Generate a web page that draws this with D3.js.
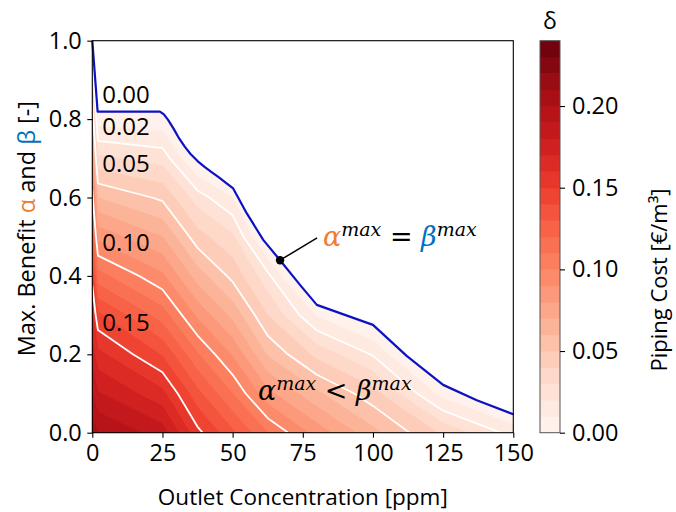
<!DOCTYPE html>
<html>
<head>
<meta charset="utf-8">
<script src="https://cdn.jsdelivr.net/npm/d3@7"></script>
<style>
  body { margin: 0; background: #fff; }
  svg text { font-family: "Open Sans", "DejaVu Sans", sans-serif; fill: #000; }
</style>
</head>
<body>
<svg id="chart" width="676" height="512"></svg>
<script>
// Grid columns: outlet concentration [ppm]
const concentration = [0, 2, 25, 37.5, 50, 62.5, 80, 100, 125, 150];
// Grid rows: maximum benefit β [-]
const benefit = [0, 0.1, 0.2, 0.3, 0.4, 0.5, 0.6, 0.7, 0.8, 0.9, 1.0];
// Piping cost δ [€/m³]; one list per concentration column, from benefit 0 to 1
const pipingCost = [
  [0.205, 0.190, 0.176, 0.162, 0.146, 0.125, 0.104, 0.083, 0.061, 0.035, 0.000],
  [0.200, 0.181, 0.163, 0.142, 0.114, 0.087, 0.060, 0.032, 0.005, -0.022, -0.049],
  [0.185, 0.163, 0.139, 0.115, 0.092, 0.070, 0.048, 0.026, 0.003, -0.020, -0.043],
  [0.153, 0.133, 0.111, 0.088, 0.065, 0.044, 0.025, -0.003, -0.035, -0.068, -0.100],
  [0.132, 0.110, 0.089, 0.067, 0.047, 0.032, 0.010, -0.020, -0.045, -0.070, -0.095],
  [0.110, 0.083, 0.059, 0.040, 0.023, -0.007, -0.038, -0.065, -0.090, -0.115, -0.140],
  [0.086, 0.062, 0.037, 0.009, -0.026, -0.055, -0.080, -0.105, -0.130, -0.155, -0.180],
  [0.063, 0.044, 0.019, -0.006, -0.031, -0.056, -0.080, -0.105, -0.130, -0.155, -0.180],
  [0.038, 0.006, -0.022, -0.050, -0.075, -0.100, -0.125, -0.150, -0.175, -0.200, -0.225],
  [0.016, -0.013, -0.038, -0.063, -0.088, -0.113, -0.138, -0.163, -0.188, -0.213, -0.238]
];
// Frontier where α^max = β^max
const frontierConc    = [0, 1.9, 24.1, 25.5, 27, 29, 31, 33, 35, 37.5, 40, 42.5, 45, 47.5, 50.2, 55, 60.9, 66.9, 74, 80, 100, 112, 125, 137, 150];
const frontierBenefit = [1.0, 0.819, 0.819, 0.812, 0.798, 0.775, 0.750, 0.729, 0.711, 0.693, 0.678, 0.665, 0.652, 0.638, 0.623, 0.56, 0.492, 0.44, 0.377, 0.326, 0.275, 0.196, 0.122, 0.083, 0.047];
const markerIndex = 17;

// Contour levels
const fillLevels = d3.range(25).map(i => i / 100);   // 0.00 … 0.24
const lineLevels = [0.02, 0.05, 0.10, 0.15];
const levelLabels = ["0.00", "0.02", "0.05", "0.10", "0.15"];

// Axis ticks
const xTicks = [0, 25, 50, 75, 100, 125, 150];
const yTicks = [0, 0.2, 0.4, 0.6, 0.8, 1.0];
const cbarTicks = [0, 0.05, 0.10, 0.15, 0.20];

const svg = d3.select("#chart");
const x = d3.scaleLinear().domain([0, 150]).range([92.3, 513.3]);
const y = d3.scaleLinear().domain([0, 1]).range([432.7, 40.7]);
const cb = d3.scaleLinear().domain([0, 0.24]).range([432.7, 40.7]);
const vmax = 0.24;
const bandColor = t => d3.interpolateReds((t + 0.005) / vmax);

// grid index -> data coordinate (piecewise linear over the column / row positions)
const n = concentration.length, m = benefit.length;
const gx = d3.scaleLinear().domain(d3.range(n)).range(concentration).clamp(true);
const gy = d3.scaleLinear().domain(d3.range(m)).range(benefit).clamp(true);
const values = new Array(n * m);
for (let j = 0; j < m; j++) for (let i = 0; i < n; i++) values[i + j * n] = pipingCost[i][j];

const contours = d3.contours().size([n, m]);
const proj = d3.geoTransform({
  point(u, w) { this.stream.point(x(gx(u - 0.5)), y(gy(w - 0.5))); }
});
const geo = d3.geoPath(proj);

// clip region below the frontier
const frontier = frontierConc.map((c, i) => [c, frontierBenefit[i]]);
const clipPoly = [[0, 0], ...frontier, [150, 0]];
const polyLine = d3.line().x(d => x(d[0])).y(d => y(d[1]));
svg.append("defs").append("clipPath").attr("id", "feasible")
  .append("path").attr("d", polyLine(clipPoly) + "Z");

const plot = svg.append("g").attr("clip-path", "url(#feasible)");
plot.append("path").attr("d", polyLine(clipPoly) + "Z").attr("fill", bandColor(0));

fillLevels.slice(0, -1).forEach(t => {
  plot.append("path")
    .attr("d", geo(contours.contour(values, t)))
    .attr("fill", bandColor(t))
    .attr("stroke", bandColor(t))
    .attr("stroke-width", 0.4);
});

// iso-lines: keep only the interior parts of each contour ring
function isoline(level) {
  const parts = [];
  const g = contours.contour(values, level);
  g.coordinates.forEach(poly => poly.forEach(ring => {
    let cur = [];
    ring.forEach(p => {
      const edge = p[0] === 0 || p[0] === n || p[1] === 0 || p[1] === m;
      if (edge) { if (cur.length > 1) parts.push(cur); cur = []; }
      else cur.push([x(gx(p[0] - 0.5)), y(gy(p[1] - 0.5))]);
    });
    if (cur.length > 1) parts.push(cur);
  }));
  return parts;
}
lineLevels.forEach(level => {
  isoline(level).forEach(part => {
    plot.append("path")
      .attr("d", d3.line()(part))
      .attr("fill", "none")
      .attr("stroke", "#fff")
      .attr("stroke-width", 1.8)
      .attr("stroke-linejoin", "round");
  });
});

// frontier line
svg.append("path")
  .attr("d", polyLine(frontier))
  .attr("fill", "none")
  .attr("stroke", "#0c12c4")
  .attr("stroke-width", 2.2)
  .attr("stroke-linejoin", "round");

// contour level labels
const labelAt = [0.864, 0.781, 0.687, 0.485, 0.282];
levelLabels.forEach((s, i) => {
  svg.append("text")
    .attr("x", x(12)).attr("y", y(labelAt[i]))
    .attr("dy", "0.36em")
    .attr("text-anchor", "middle")
    .style("font-size", "24px")
    .text(s);
});

// frame
svg.append("rect")
  .attr("x", x(0)).attr("y", y(1))
  .attr("width", x(150) - x(0)).attr("height", y(0) - y(1))
  .attr("fill", "none").attr("stroke", "#000").attr("stroke-width", 1.1);

// axes
const xAxis = svg.append("g").attr("transform", `translate(0,${y(0)})`)
  .call(d3.axisBottom(x).tickValues(xTicks).tickSize(5).tickPadding(7).tickFormat(d3.format("d")));
const yAxis = svg.append("g").attr("transform", `translate(${x(0)},0)`)
  .call(d3.axisLeft(y).tickValues(yTicks).tickSize(5).tickPadding(5.5).tickFormat(d3.format(".1f")));
[xAxis, yAxis].forEach(a => {
  a.select(".domain").remove();
  a.selectAll(".tick line").attr("stroke", "#000").attr("stroke-width", 1.1);
  a.selectAll(".tick text").style("font-size", "23.5px").style("font-family", "'Open Sans', sans-serif").attr("fill", "#000");
});

// axis titles
svg.append("text")
  .attr("x", (x(0) + x(150)) / 2).attr("y", 505)
  .attr("text-anchor", "middle")
  .style("font-size", "22.5px")
  .text("Outlet Concentration [ppm]");

const yTitle = svg.append("text")
  .attr("transform", `translate(35,${(y(0) + y(1)) / 2 - 8}) rotate(-90)`)
  .attr("text-anchor", "middle")
  .style("font-size", "23.5px");
yTitle.append("tspan").text("Max. Benefit ");
yTitle.append("tspan").style("fill", "#ed7d31").text("α");
yTitle.append("tspan").text(" and ");
yTitle.append("tspan").style("fill", "#0070c0").text("β");
yTitle.append("tspan").text(" [-]");

// annotation: marker on the frontier
const mk = frontier[markerIndex];
svg.append("line")
  .attr("x1", x(mk[0])).attr("y1", y(mk[1]))
  .attr("x2", x(80.1)).attr("y2", y(0.497))
  .attr("stroke", "#000").attr("stroke-width", 1.5);
svg.append("circle")
  .attr("cx", x(mk[0])).attr("cy", y(mk[1])).attr("r", 4.2)
  .attr("fill", "#000");

function mathLabel(px, py, rel, colors) {
  const t = svg.append("text")
    .attr("x", px).attr("y", py)
    .style("font-family", "'DejaVu Serif', serif")
    .style("font-size", "27px");
  t.append("tspan").style("font-style", "italic").style("fill", colors[0]).text("α");
  t.append("tspan").style("font-style", "italic").style("font-size", "19px").attr("dy", -10).text("max");
  t.append("tspan").attr("dy", 10).text(" " + rel + " ");
  t.append("tspan").style("font-style", "italic").style("fill", colors[1]).text("β");
  t.append("tspan").style("font-style", "italic").style("font-size", "19px").attr("dy", -10).text("max");
}
mathLabel(x(82.2), y(0.476), "=", ["#ed7d31", "#0070c0"]);
mathLabel(x(59.0), y(0.083), "<", ["#000", "#000"]);

// colour bar
const cbX = 540, cbW = 20;
const cbar = svg.append("g");
fillLevels.slice(0, -1).forEach(t => {
  cbar.append("rect")
    .attr("x", cbX).attr("width", cbW)
    .attr("y", cb(t + 0.01)).attr("height", cb(t) - cb(t + 0.01) + 0.5)
    .attr("fill", bandColor(t));
});
cbar.append("rect")
  .attr("x", cbX).attr("y", cb(0.24)).attr("width", cbW).attr("height", cb(0) - cb(0.24))
  .attr("fill", "none").attr("stroke", "#555").attr("stroke-width", 1);
const cAxis = svg.append("g").attr("transform", `translate(${cbX + cbW},0)`)
  .call(d3.axisRight(cb).tickValues(cbarTicks).tickSize(5).tickPadding(7).tickFormat(d3.format(".2f")));
cAxis.select(".domain").remove();
cAxis.selectAll(".tick line").attr("stroke", "#000").attr("stroke-width", 1.1);
cAxis.selectAll(".tick text").style("font-size", "23.5px").style("font-family", "'Open Sans', sans-serif").attr("fill", "#000");

svg.append("text")
  .attr("x", cbX + cbW / 2).attr("y", 29)
  .attr("text-anchor", "middle")
  .style("font-size", "23px")
  .text("δ");

svg.append("text")
  .attr("transform", `translate(667,280) rotate(-90)`)
  .attr("text-anchor", "middle")
  .style("font-size", "22px")
  .text("Piping Cost [€/m³]");
</script>
</body>
</html>
